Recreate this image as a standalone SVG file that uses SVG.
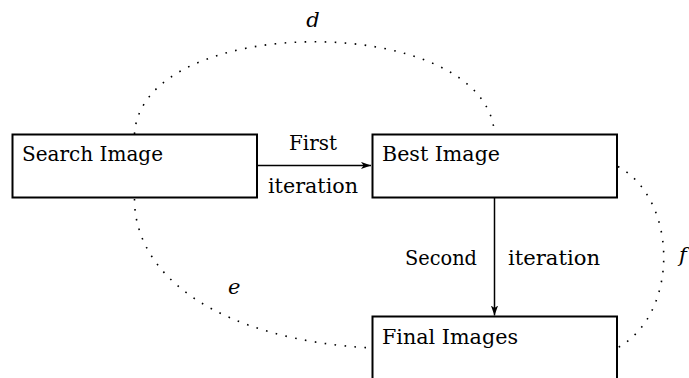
<svg xmlns="http://www.w3.org/2000/svg" width="689" height="378" viewBox="0 0 689 378">
  <style>
    .box { fill: #ffffff; stroke: #000000; stroke-width: 2; }
    .lbl { font-family: 'DejaVu Serif', serif; font-size: 21px; fill: #000000; }
    .var { font-family: 'DejaVu Serif', serif; font-size: 21px; font-style: italic; fill: #000000; }
    .edge { fill: none; stroke: #000000; stroke-width: 1.5; }
    .dots { fill: none; stroke: #000000; stroke-width: 1.6; stroke-dasharray: 1.6 8.4; }
  </style>
  <defs>
    <marker id="arrow" viewBox="0 0 10 8" refX="10" refY="4" markerWidth="10" markerHeight="8" markerUnits="userSpaceOnUse" orient="auto">
      <path d="M0,0.4 L10,4 L0,7.6 L2.6,4 Z" fill="#000000"/>
    </marker>
  </defs>

  <rect width="689" height="378" fill="#ffffff"/>

  <!-- connectors -->
  <g id="connectors">
    <path class="edge" d="M257,165.5 L371,165.5" marker-end="url(#arrow)"/>
    <path class="edge" d="M494.5,198 L494.5,315.5" marker-end="url(#arrow)"/>
    <!-- d: search -> best, over the top -->
    <path class="dots" d="M134.5,134 C142,11 487,11 494.5,134"/>
    <!-- e: search -> final images -->
    <path class="dots" d="M134.5,199 C134.5,278 222,340 372,348"/>
    <!-- f: best -> final images -->
    <path class="dots" d="M618,166.5 C679,200 679,314 618,347.5"/>
    <text class="lbl" x="313" y="150" text-anchor="middle" textLength="48" lengthAdjust="spacingAndGlyphs">First</text>
    <text class="lbl" x="268" y="193" textLength="90" lengthAdjust="spacingAndGlyphs">iteration</text>
    <text class="lbl" x="405" y="265" textLength="72" lengthAdjust="spacingAndGlyphs">Second</text>
    <text class="lbl" x="508" y="265" textLength="92" lengthAdjust="spacingAndGlyphs">iteration</text>
    <text class="var" x="313" y="27" text-anchor="middle">d</text>
    <text class="var" x="228" y="294">e</text>
    <text class="var" x="679" y="262">f</text>
  </g>

  <g id="search-image">
    <rect class="box" x="12.5" y="134.5" width="244.5" height="63"/>
    <text class="lbl" x="22" y="161" textLength="141" lengthAdjust="spacingAndGlyphs">Search Image</text>
  </g>

  <g id="best-image">
    <rect class="box" x="372.5" y="134.5" width="244.5" height="63"/>
    <text class="lbl" x="382" y="161" textLength="118" lengthAdjust="spacingAndGlyphs">Best Image</text>
  </g>

  <g id="final-images">
    <rect class="box" x="372.5" y="316.5" width="244.5" height="63"/>
    <text class="lbl" x="382" y="344" textLength="136" lengthAdjust="spacingAndGlyphs">Final Images</text>
  </g>
</svg>
